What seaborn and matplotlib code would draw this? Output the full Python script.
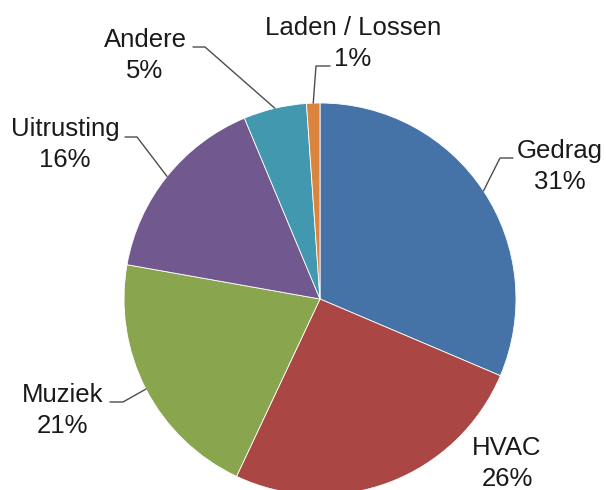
import numpy as np
import seaborn as sns
import matplotlib
matplotlib.use('Agg')
import matplotlib.pyplot as plt

# Datos del gráfico (porcentajes por categoría)
categorias = ['Gedrag', 'HVAC', 'Muziek', 'Uitrusting', 'Andere', 'Laden / Lossen']
valores = [31.4, 25.6, 20.8, 15.9, 5.2, 1.1]
colores = ['#4572A7', '#AA4643', '#89A54E', '#71588F', '#4198AF', '#DB843D']

# Posición de las etiquetas (centro x, línea base y) en píxeles
pos_etiquetas = [(560, 158), (507, 455), (63, 402), (65, 136), (145, 47), (353, 35)]
# Líneas guía: (fin x, codo x, y horizontal); None = sin línea
guias = [(513, 500, 158), None, (110, 123, 402), (125, 137, 137), (193, 205, 47), (330, 316, 66)]

sns.set_style('white')
plt.rcParams['font.family'] = ['Liberation Sans', 'DejaVu Sans']

fig = plt.figure(figsize=(6.06, 4.9), dpi=100)
ax = fig.add_axes([0, 0, 1, 1])

centro = (320, 299)
radio = 196
wedges, _ = ax.pie(valores, colors=sns.color_palette(colores), startangle=-90,
                   counterclock=True, center=centro, radius=radio,
                   wedgeprops={'edgecolor': 'white', 'linewidth': 0.6})

ax.set_xlim(0, 606)
ax.set_ylim(490, 0)
ax.set_aspect('equal')
ax.axis('off')

for w, cat, v, (x, y), g in zip(wedges, categorias, valores, pos_etiquetas, guias):
    ax.text(x, y, cat, ha='center', va='baseline', fontsize=18.5, color='#1a1a1a')
    ax.text(x, y + 31, f'{v:.0f}%', ha='center', va='baseline', fontsize=18.5, color='#1a1a1a')
    if g is not None:
        ang = np.deg2rad((w.theta1 + w.theta2) / 2)
        px = centro[0] + radio * np.cos(ang)
        py = centro[1] + radio * np.sin(ang)
        ax.plot([g[0], g[1], px], [g[2], g[2], py], color='#4d4d4d', lw=1)

plt.savefig('out.png', dpi=100)
